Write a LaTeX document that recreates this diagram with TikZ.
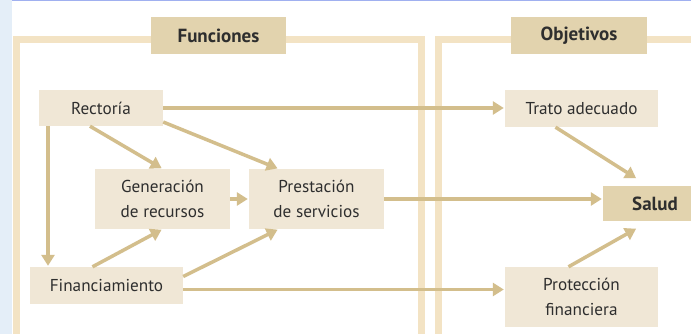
\documentclass[tikz,border=0pt]{standalone}
\usepackage{fontspec}
\setmainfont{PT Sans}
\usepackage{tikz}
\usetikzlibrary{positioning,arrows.meta,calc}

\definecolor{framecol}{HTML}{F3E3C4}
\definecolor{headcol}{HTML}{E2D3AE}
\definecolor{boxcol}{HTML}{F0E7D6}
\definecolor{arrcol}{HTML}{D3BE8C}
\definecolor{txtcol}{HTML}{2E2E2E}
\definecolor{stripcol}{HTML}{E4EEF8}
\definecolor{topcol}{HTML}{A0B0F0}

\tikzset{
  fbox/.style={fill=boxcol, text=txtcol, align=center, inner sep=0pt,
    font=\fontsize{17.2}{24.5}\selectfont},
  hbox/.style={fill=headcol, text=txtcol, align=center, inner sep=0pt,
    font=\fontsize{19}{22}\selectfont\bfseries},
  frame/.style={draw=framecol, line width=7pt},
  arr/.style={draw=arrcol, line width=3.5pt,
    -{Triangle[length=11pt,width=13pt]}, shorten >=1pt}
}

\begin{document}
\begin{tikzpicture}[x=1pt,y=-1pt]

  \useasboundingbox (0,0) rectangle (691,334);
  \fill[white] (0,0) rectangle (691,334);
  \fill[stripcol] (0,0) rectangle (12,334);
  \fill[topcol] (12,0) rectangle (691,1.5);

  \begin{scope}
    \clip (0,0) rectangle (691,334);
    \path[frame] (16.5,340) -- (16.5,39.5) -- (421,39.5) -- (421,340);
    \path[frame] (438.5,340) -- (438.5,39.5) -- (700,39.5);

    \node[hbox, minimum width=135pt, minimum height=37pt] (fun) at (218.5,35.5) {Funciones};
    \node[hbox, minimum width=136pt, minimum height=37pt] (obj) at (579,35.5) {Objetivos};

    \node[fbox, minimum width=124pt, minimum height=36pt] (rect) at (101,108) {Rectoría};
    \node[fbox, minimum width=135pt, minimum height=60pt] (gen) at (162.5,199) {Generación\\de recursos};
    \node[fbox, minimum width=135pt, minimum height=60pt] (pres) at (316.5,199) {Prestación\\de servicios};
    \node[fbox, minimum width=153pt, minimum height=37pt] (fin) at (106.5,285.5) {Financiamiento};

    \node[fbox, minimum width=153pt, minimum height=37pt] (trato) at (581.5,108.5) {Trato adecuado};
    \node[hbox, minimum width=104pt, minimum height=35pt] (salud) at (655,203.5) {Salud};
    \node[fbox, minimum width=153pt, minimum height=60pt] (prot) at (581.5,297) {Protección\\financiera};

    \draw[arr] (rect.east) -- (rect.east -| trato.west);
    \draw[arr] ([xshift=-53pt]rect.south) -- ([xshift=-53pt]rect.south |- fin.north);
    \draw[arr] ([xshift=-11pt]rect.south) -- (gen.north);
    \draw[arr] ([yshift=-14pt]rect.east) -- ([xshift=-38pt]pres.north);
    \draw[arr] (gen.east) -- (gen.east -| pres.west);
    \draw[arr] ([xshift=-14pt]fin.north) -- (gen.south);
    \draw[arr] ([yshift=9pt]fin.east) -- ([xshift=-38pt]pres.south);
    \draw[arr] ([yshift=-4pt]fin.east) -- ([yshift=-4pt]fin.east -| prot.west);
    \draw[arr] (pres.east) -- (pres.east -| salud.west);
    \draw[arr] ([xshift=-26pt]trato.south) -- ([xshift=-18pt,yshift=7pt]salud.north);
    \draw[arr] ([xshift=-13pt]prot.north) -- ([xshift=-18pt,yshift=-7pt]salud.south);
  \end{scope}

\end{tikzpicture}
\end{document}
